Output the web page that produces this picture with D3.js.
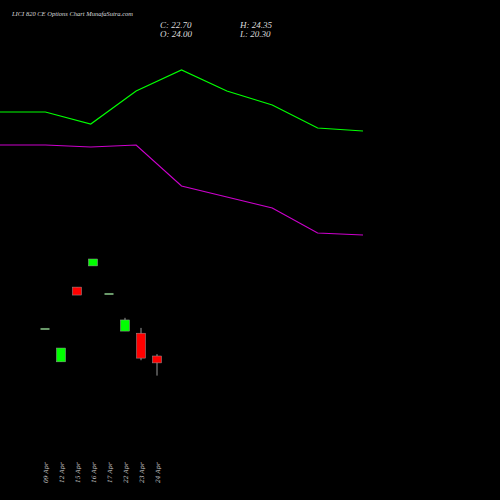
<!DOCTYPE html>
<html><head><meta charset="utf-8">
<script src="https://cdn.jsdelivr.net/npm/d3@7"></script>
<style>body{margin:0;background:#000}</style></head>
<body><div id="chart"></div>
<script>
const dates = ["09 Apr","12 Apr","15 Apr","16 Apr","17 Apr","22 Apr","23 Apr","24 Apr"];
const opens = [29.1, 22.9, 37.0, 41.0, 35.7, 28.7, 28.3, 24.00];
const closes = [29.1, 25.5, 35.5, 42.3, 35.7, 30.8, 23.6, 22.70];
const highs = [29.1, 25.5, 37.0, 42.3, 35.7, 31.2, 29.3, 24.35];
const lows = [29.1, 22.9, 35.5, 41.0, 35.7, 28.7, 23.2, 20.30];
// indicator lines (relative units)
const greenLine = [388, 388, 376, 409, 430, 409, 395, 372, 369];
const purpleLine = [355, 355, 353, 355, 314, 303, 292, 267, 265];

const W = 500, H = 500;
const svg = d3.select('#chart').append('svg').attr('width', W).attr('height', H)
  .style('background', '#000');

const x = d3.scaleLinear().domain([0, dates.length - 1]).range([45, 157]);
const y = d3.scaleLinear().domain([24, 14]).range([356, 409]);
const lx = d3.scaleLinear().domain([0, greenLine.length - 1]).range([0, 363]);
const ly = d3.scaleLinear().domain([0, 500]).range([500, 0]);

const line = d3.line().x((d, i) => lx(i)).y(d => ly(d));
svg.append('path').attr('d', line(greenLine)).attr('fill', 'none').attr('stroke', '#00ff00').attr('stroke-width', 1.2);
svg.append('path').attr('d', line(purpleLine)).attr('fill', 'none').attr('stroke', '#cc00cc').attr('stroke-width', 1.2);

const candles = dates.map((d, i) => ({ d, i, o: opens[i], c: closes[i], h: highs[i], l: lows[i] }));
const g = svg.append('g');
candles.forEach(k => {
  const doji = k.o === k.c;
  const col = doji ? '#6a9a6a' : (k.c > k.o ? '#00ff00' : '#ff0000');
  g.append('line').attr('x1', x(k.i)).attr('x2', x(k.i)).attr('y1', y(k.h)).attr('y2', y(k.l))
    .attr('stroke', '#999').attr('stroke-width', 1);
  if (doji) {
    g.append('rect').attr('x', x(k.i) - 4.5).attr('y', y(k.o) - 1).attr('width', 9).attr('height', 2).attr('fill', col);
  } else {
    const top = y(Math.max(k.o, k.c)), bot = y(Math.min(k.o, k.c));
    g.append('rect').attr('x', x(k.i) - 4.5).attr('y', top).attr('width', 9).attr('height', bot - top)
      .attr('fill', col).attr('stroke', '#999').attr('stroke-width', 0.5);
  }
  svg.append('text').attr('transform', `translate(${x(k.i) + 2.5},483) rotate(-90)`)
    .attr('fill', '#ccc').style('font-family', 'DejaVu Serif').style('font-size', '6px').style('font-style', 'italic')
    .text(k.d);
});

svg.append('text').attr('x', 12).attr('y', 16).attr('fill', '#ddd')
  .style('font-family', 'Liberation Serif').style('font-size', '6.5px').style('font-style', 'italic')
  .text('LICI 820  CE Options  Chart MunafaSutra.com');
const info = [['C: 22.70', 160, 28], ['O: 24.00', 160, 37], ['H: 24.35', 240, 28], ['L: 20.30', 240, 37]];
info.forEach(t => svg.append('text').attr('x', t[1]).attr('y', t[2]).attr('fill', '#ddd')
  .style('font-family', 'Liberation Serif').style('font-size', '9px').style('font-style', 'italic').text(t[0]));
</script></body></html>
